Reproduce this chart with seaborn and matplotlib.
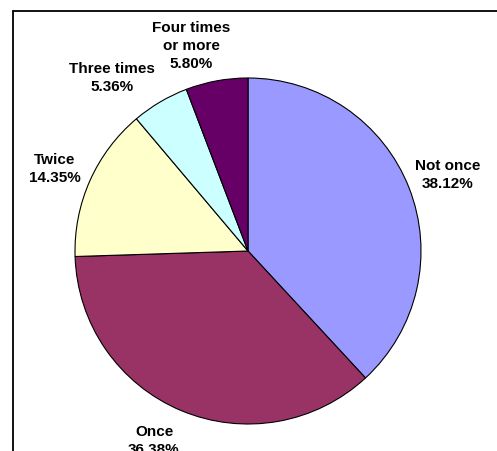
import matplotlib
matplotlib.use("Agg")
import matplotlib.pyplot as plt
from matplotlib.lines import Line2D
import seaborn as sns

categories = ["Not once", "Once", "Twice", "Three times", "Four times\nor more"]
shares = [38.12, 36.38, 14.35, 5.36, 5.80]
colors = ["#9999FF", "#993366", "#FFFFCC", "#CCFFFF", "#660066"]

# label anchor points (pixel coords, origin top-left)
label_xy = [(448, 175), (154, 441), (55, 169), (112, 78), (191, 46)]

sns.set_style("white")
plt.rcParams["font.family"] = ["Liberation Sans", "DejaVu Sans"]

W, H = 497, 452
fig = plt.figure(figsize=(W / 100, H / 100), dpi=100)
ax = fig.add_axes([0, 0, 1, 1])
ax.axis("off")

ax.pie(shares, colors=colors, startangle=90, counterclock=False,
       center=(248, H - 252), radius=173,
       wedgeprops=dict(edgecolor="black", linewidth=0.8))
ax.set_xlim(0, W)
ax.set_ylim(0, H)
ax.set_aspect("auto")

for cat, val, (x, y) in zip(categories, shares, label_xy):
    ax.text(x, H - y, f"{cat}\n{val:.2f}%", ha="center", va="center",
            fontsize=11, fontweight="bold", linespacing=1.32, color="black")

# chart-area frame (left and top edges)
fig.add_artist(Line2D([13 / W, 13 / W], [0, 1 - 12 / H], color="black", lw=1.3,
                      transform=fig.transFigure))
fig.add_artist(Line2D([13 / W, 1], [1 - 12 / H, 1 - 12 / H], color="black", lw=1.3,
                      transform=fig.transFigure))

fig.savefig("out.png", dpi=100)
